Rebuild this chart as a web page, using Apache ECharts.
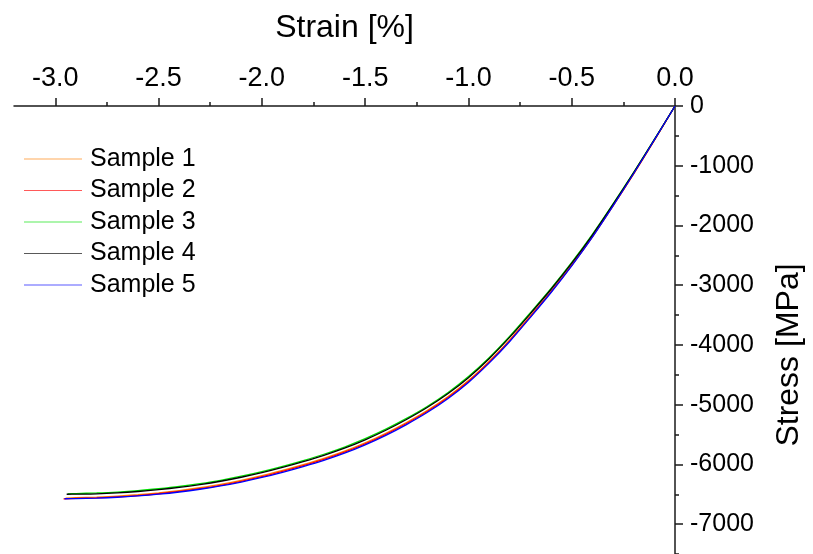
<!DOCTYPE html>
<html>
<head>
<meta charset="utf-8">
<script src="https://cdn.jsdelivr.net/npm/echarts@6/dist/echarts.min.js"></script>
<style>html,body{margin:0;padding:0;background:#fff}#c{width:813px;height:554px}</style>
</head>
<body>
<div id="c"></div>
<script>
// ---- data (strain %, stress MPa) ----
const seriesNames = ['Sample 1', 'Sample 2', 'Sample 3', 'Sample 4', 'Sample 5'];
const strainCommon = [0, -0.1, -0.2, -0.3, -0.4, -0.5, -0.6, -0.7, -0.8, -0.9, -1.0, -1.1, -1.2, -1.3, -1.4, -1.5, -1.6, -1.7, -1.8, -1.9, -2.0, -2.1, -2.2, -2.3, -2.4, -2.5, -2.6, -2.7, -2.8, -2.9];
const strainEnd = [-2.95, -2.96, -2.94, -2.945, -2.955];
const stress1 = [0, -575, -1135, -1672, -2188, -2663, -3105, -3515, -3915, -4275, -4597, -4868, -5098, -5298, -5478, -5638, -5778, -5899, -6004, -6100, -6189, -6267, -6335, -6391, -6439, -6477, -6508, -6532, -6547, -6557, -6565];
const stress2 = [0, -572, -1132, -1670, -2190, -2668, -3112, -3525, -3928, -4290, -4612, -4884, -5115, -5316, -5496, -5656, -5796, -5917, -6022, -6118, -6206, -6283, -6350, -6406, -6453, -6491, -6522, -6545, -6560, -6570, -6578];
const stress3 = [0, -560, -1110, -1640, -2150, -2620, -3055, -3460, -3855, -4215, -4530, -4800, -5030, -5230, -5410, -5570, -5710, -5830, -5935, -6032, -6120, -6198, -6266, -6322, -6370, -6408, -6440, -6463, -6478, -6488, -6493];
const stress4 = [0, -562, -1115, -1648, -2160, -2632, -3068, -3475, -3870, -4230, -4548, -4818, -5048, -5248, -5428, -5588, -5728, -5848, -5953, -6050, -6138, -6215, -6282, -6338, -6385, -6423, -6454, -6477, -6492, -6498, -6500];
const stress5 = [0, -568, -1130, -1672, -2195, -2675, -3122, -3538, -3942, -4305, -4628, -4900, -5132, -5333, -5513, -5672, -5812, -5932, -6036, -6132, -6219, -6295, -6361, -6416, -6462, -6499, -6528, -6550, -6564, -6572, -6575];
const xTickLabels = [-3.0, -2.5, -2.0, -1.5, -1.0, -0.5, 0.0];
const xMinorTicks = [-2.75, -2.25, -1.75, -1.25, -0.75, -0.25];
const yTickLabels = [0, -1000, -2000, -3000, -4000, -5000, -6000, -7000];
const yMinorTicks = [-500, -1500, -2500, -3500, -4500, -5500, -6500, -7500];
const colors = ['#ff8000', '#ff0000', '#00e000', '#000000', '#0000ff'];

const stressAll = [stress1, stress2, stress3, stress4, stress5];
function pairs(i) {
  const xs = strainCommon.concat([strainEnd[i]]);
  return xs.map((x, k) => [x, stressAll[i][k]]);
}

const FONT = 'Liberation Sans, Arial, sans-serif';
const axisCol = '#1a1a1a';
const chart = echarts.init(document.getElementById('c'), null, {renderer: 'canvas'});
chart.setOption({
  animation: false,
  backgroundColor: '#ffffff',
  color: colors,
  grid: {left: 14, right: 126, top: 106, bottom: 0, containLabel: false},
  legend: {
    orient: 'vertical', left: 24, top: 145, padding: 0, itemWidth: 58, itemHeight: 1.2, itemGap: 3.5,
    icon: 'rect',
    textStyle: {fontFamily: FONT, fontSize: 25, lineHeight: 28, color: '#000', padding: [0, 0, 0, 3]},
    data: seriesNames.map((n, i) => ({name: n, itemStyle: {color: colors[i], opacity: 0.65}}))
  },
  xAxis: [{
    type: 'value', position: 'top', min: -3.2, max: 0,
    name: 'Strain [%]', nameLocation: 'middle', nameGap: 62,
    nameTextStyle: {fontFamily: FONT, fontSize: 32, color: '#000'},
    axisLine: {show: true, onZero: false, lineStyle: {color: axisCol, width: 1.5}},
    axisTick: {show: true, inside: false, length: 8, customValues: xTickLabels, lineStyle: {color: axisCol, width: 1.5}},
    axisLabel: {show: true, customValues: xTickLabels, margin: 14, fontFamily: FONT, fontSize: 27, color: '#000',
      formatter: v => (v === 0 ? '0.0' : v.toFixed(1))},
    splitLine: {show: false}
  }, {
    type: 'value', position: 'top', min: -3.2, max: 0, offset: 0,
    axisLine: {show: false, onZero: false},
    axisTick: {show: true, inside: false, length: 4, customValues: xMinorTicks, lineStyle: {color: axisCol, width: 1.5}},
    axisLabel: {show: false},
    splitLine: {show: false}
  }],
  yAxis: [{
    type: 'value', position: 'right', min: -7500, max: 0,
    name: 'Stress [MPa]', nameLocation: 'middle', nameGap: 98, nameRotate: 90,
    nameTextStyle: {fontFamily: FONT, fontSize: 32, color: '#000', padding: [0, 50, 0, 0]},
    axisLine: {show: true, onZero: false, lineStyle: {color: axisCol, width: 1.5}},
    axisTick: {show: true, inside: false, length: 8, customValues: yTickLabels, lineStyle: {color: axisCol, width: 1.5}},
    axisLabel: {show: true, customValues: yTickLabels, margin: 15, fontFamily: FONT, fontSize: 25, color: '#000',
      formatter: v => String(v)},
    splitLine: {show: false}
  }, {
    type: 'value', position: 'right', min: -7500, max: 0, offset: 0,
    axisLine: {show: false, onZero: false},
    axisTick: {show: true, inside: false, length: 4, customValues: yMinorTicks, lineStyle: {color: axisCol, width: 1.5}},
    axisLabel: {show: false},
    splitLine: {show: false}
  }],
  series: seriesNames.map((n, i) => ({
    name: n, type: 'line', data: pairs(i), xAxisIndex: 0, yAxisIndex: 0,
    symbol: 'none', smooth: 0.3, lineStyle: {width: 1.3, color: colors[i]}, z: 2 + i
  }))
});
</script>
</body>
</html>
